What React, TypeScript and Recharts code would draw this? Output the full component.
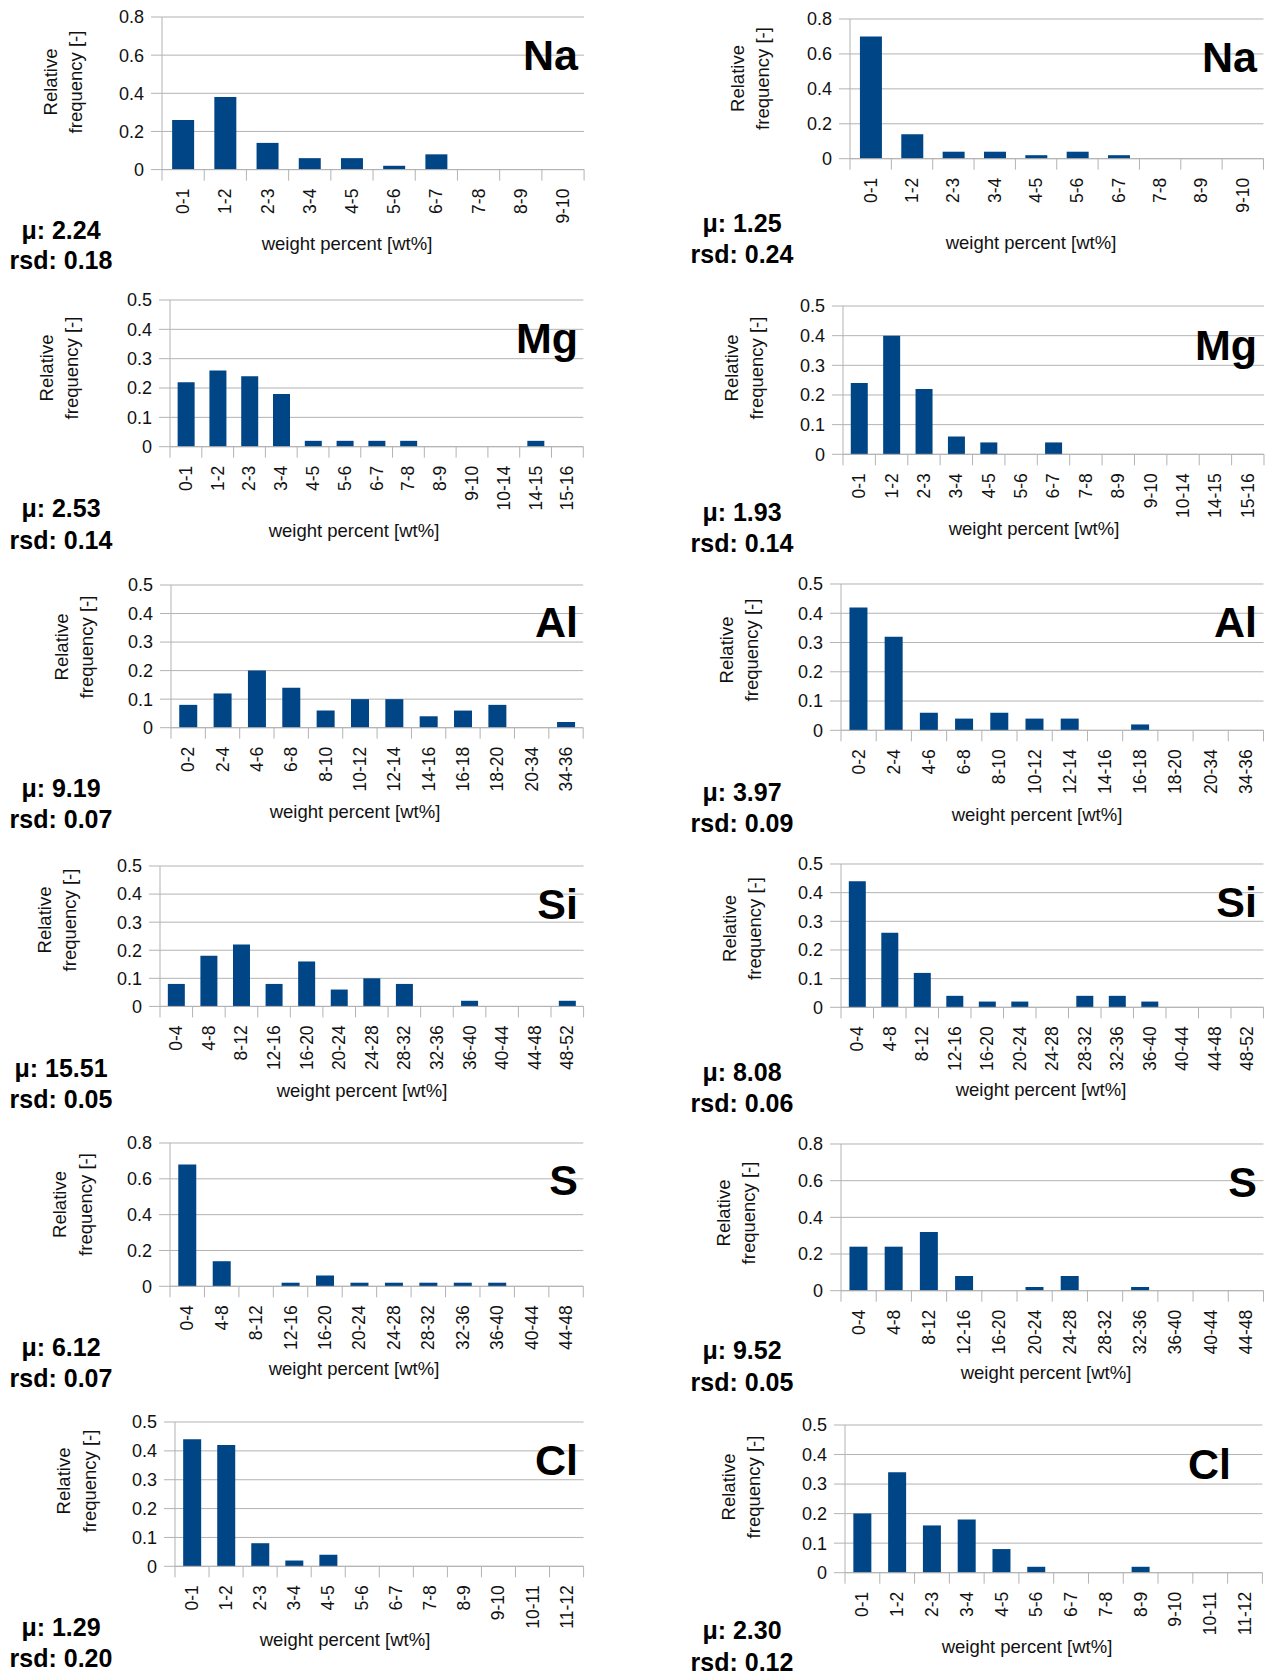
import React from 'react';
import { BarChart, Bar, XAxis, YAxis, CartesianGrid } from 'recharts';

// ---------- categories (tick labels) ----------
const catNa = ['0-1', '1-2', '2-3', '3-4', '4-5', '5-6', '6-7', '7-8', '8-9', '9-10'];
const catMg = ['0-1', '1-2', '2-3', '3-4', '4-5', '5-6', '6-7', '7-8', '8-9', '9-10', '10-14', '14-15', '15-16'];
const catAl = ['0-2', '2-4', '4-6', '6-8', '8-10', '10-12', '12-14', '14-16', '16-18', '18-20', '20-34', '34-36'];
const catSi = ['0-4', '4-8', '8-12', '12-16', '16-20', '20-24', '24-28', '28-32', '32-36', '36-40', '40-44', '44-48', '48-52'];
const catS = ['0-4', '4-8', '8-12', '12-16', '16-20', '20-24', '24-28', '28-32', '32-36', '36-40', '40-44', '44-48'];
const catCl = ['0-1', '1-2', '2-3', '3-4', '4-5', '5-6', '6-7', '7-8', '8-9', '9-10', '10-11', '11-12'];

// ---------- series values (relative frequency) ----------
const naLeft = [0.26, 0.38, 0.14, 0.06, 0.06, 0.02, 0.08, 0, 0, 0];
const naRight = [0.7, 0.14, 0.04, 0.04, 0.02, 0.04, 0.02, 0, 0, 0];
const mgLeft = [0.22, 0.26, 0.24, 0.18, 0.02, 0.02, 0.02, 0.02, 0, 0, 0, 0.02, 0];
const mgRight = [0.24, 0.4, 0.22, 0.06, 0.04, 0, 0.04, 0, 0, 0, 0, 0, 0];
const alLeft = [0.08, 0.12, 0.2, 0.14, 0.06, 0.1, 0.1, 0.04, 0.06, 0.08, 0, 0.02];
const alRight = [0.42, 0.32, 0.06, 0.04, 0.06, 0.04, 0.04, 0, 0.02, 0, 0, 0];
const siLeft = [0.08, 0.18, 0.22, 0.08, 0.16, 0.06, 0.1, 0.08, 0, 0.02, 0, 0, 0.02];
const siRight = [0.44, 0.26, 0.12, 0.04, 0.02, 0.02, 0, 0.04, 0.04, 0.02, 0, 0, 0];
const sLeft = [0.68, 0.14, 0, 0.02, 0.06, 0.02, 0.02, 0.02, 0.02, 0.02, 0, 0];
const sRight = [0.24, 0.24, 0.32, 0.08, 0, 0.02, 0.08, 0, 0.02, 0, 0, 0];
const clLeft = [0.44, 0.42, 0.08, 0.02, 0.04, 0, 0, 0, 0, 0, 0, 0];
const clRight = [0.2, 0.34, 0.16, 0.18, 0.08, 0.02, 0, 0, 0.02, 0, 0, 0];

// ---------- y tick labels ----------
const yTicks08 = [0, 0.2, 0.4, 0.6, 0.8];
const yTicks05 = [0, 0.1, 0.2, 0.3, 0.4, 0.5];

// ---------- element names and statistics ----------
const elementNames = ['Na', 'Mg', 'Al', 'Si', 'S', 'Cl'];
const muLeft = ['2.24', '2.53', '9.19', '15.51', '6.12', '1.29'];
const rsdLeft = ['0.18', '0.14', '0.07', '0.05', '0.07', '0.20'];
const muRight = ['1.25', '1.93', '3.97', '8.08', '9.52', '2.30'];
const rsdRight = ['0.24', '0.14', '0.09', '0.06', '0.05', '0.12'];

const xTitle = 'weight percent [wt%]';
const yTitle1 = 'Relative';
const yTitle2 = 'frequency [-]';

// ---------- styles ----------
const GRID = '#b3b3b3';
const BAR = '#004586';
const TEXT = '#111111';
const FONT = '"Liberation Sans", Arial, Helvetica, sans-serif';
const Y_TICK_FS = 18;
const X_TICK_FS = 17.5;
const TITLE_FS = 18.5;

// ---------- layout (pixel geometry, separate from data) ----------
type Layout = {
  l: number; r: number; t: number; b: number;
  yt: [number, number]; cy: number;
  xt: [number, number];
  el: [number, number];
  st: [number, number, number];
};

const layoutsLeft: Layout[] = [
  { l: 161.5, r: 583.6, t: 16.7, b: 169.3, yt: [50, 75], cy: 82, xt: [347, 243], el: [578, 70], st: [61, 229.5, 260] },
  { l: 170.3, r: 583.6, t: 300, b: 446.7, yt: [46, 71], cy: 368, xt: [354, 530], el: [578, 353], st: [61, 508.3, 540] },
  { l: 171.4, r: 583.6, t: 585, b: 727.7, yt: [61, 86], cy: 647, xt: [355, 811], el: [578, 637], st: [61, 788.3, 819] },
  { l: 160, r: 583.6, t: 866.3, b: 1006.7, yt: [44, 69], cy: 920, xt: [362, 1090], el: [578, 918.5], st: [61, 1068.3, 1099] },
  { l: 170.3, r: 583.6, t: 1142.7, b: 1286, yt: [59, 85], cy: 1204.5, xt: [354, 1368], el: [578, 1195], st: [61, 1346.7, 1377.5] },
  { l: 175, r: 583.6, t: 1422, b: 1566.3, yt: [63, 89], cy: 1481, xt: [345, 1639], el: [578, 1475], st: [61, 1626.7, 1658] },
];

const layoutsRight: Layout[] = [
  { l: 850, r: 1263.5, t: 19.3, b: 159, yt: [737, 762], cy: 78.5, xt: [1031, 242], el: [1257, 71.5], st: [742, 223.3, 254] },
  { l: 842.5, r: 1263.5, t: 306, b: 454.3, yt: [731, 756], cy: 368, xt: [1034, 528], el: [1257, 360], st: [742, 511.7, 542.5] },
  { l: 841, r: 1263.5, t: 584, b: 730.3, yt: [726, 751], cy: 650, xt: [1037, 814], el: [1257, 637], st: [742, 791.7, 822.5] },
  { l: 841, r: 1263.5, t: 864, b: 1007.3, yt: [729, 754], cy: 928.5, xt: [1041, 1089], el: [1257, 917], st: [742, 1071.7, 1102.5] },
  { l: 841, r: 1263.5, t: 1144, b: 1290.7, yt: [723, 748], cy: 1213, xt: [1046, 1372], el: [1257, 1196.5], st: [742, 1350, 1381.7] },
  { l: 844.6, r: 1262, t: 1425, b: 1572.7, yt: [728, 753], cy: 1487, xt: [1027, 1646], el: [1231, 1478.5], st: [742, 1630, 1661.7] },
];

// ---------- panel table built from the arrays above ----------
type PanelDef = {
  cats: string[]; values: number[]; ticks: number[]; max: number;
  element: string; mu: string; rsd: string; layout: Layout;
};

const catsByRow = [catNa, catMg, catAl, catSi, catS, catCl];
const leftValues = [naLeft, mgLeft, alLeft, siLeft, sLeft, clLeft];
const rightValues = [naRight, mgRight, alRight, siRight, sRight, clRight];
const ticksByRow = [yTicks08, yTicks05, yTicks05, yTicks05, yTicks08, yTicks05];

const panels: PanelDef[] = [];
for (let i = 0; i < 6; i++) {
  const ticks = ticksByRow[i];
  panels.push({
    cats: catsByRow[i], values: leftValues[i], ticks, max: ticks[ticks.length - 1],
    element: elementNames[i], mu: muLeft[i], rsd: rsdLeft[i], layout: layoutsLeft[i],
  });
  panels.push({
    cats: catsByRow[i], values: rightValues[i], ticks, max: ticks[ticks.length - 1],
    element: elementNames[i], mu: muRight[i], rsd: rsdRight[i], layout: layoutsRight[i],
  });
}

const PAD_L = 100;
const PAD_T = 10;
const PAD_R = 1;
const X_AXIS_H = 80;
const Y_AXIS_W = 60;

const renderXTick = (p: any, fallbackHalf: number, n: number) => {
  const { x, y, payload } = p;
  const idx = typeof p.index === 'number' ? p.index : payload?.index;
  const half = payload && typeof payload.offset === 'number' && payload.offset > 3 ? payload.offset : fallbackHalf;
  const ty = y + 19;
  return (
    <g>
      <line x1={x - half} x2={x - half} y1={y} y2={y + 11} stroke={GRID} strokeWidth={1} />
      {idx === n - 1 && <line x1={x + half} x2={x + half} y1={y} y2={y + 11} stroke={GRID} strokeWidth={1} />}
      <text
        x={x}
        y={ty}
        transform={`rotate(-90 ${x} ${ty})`}
        textAnchor="end"
        dominantBaseline="central"
        fontSize={X_TICK_FS}
        fontFamily={FONT}
        fill={TEXT}
      >
        {payload.value}
      </text>
    </g>
  );
};

function Panel({ def }: { def: PanelDef }) {
  const { layout: L, cats, values } = def;
  const plotW = L.r - L.l;
  const plotH = L.b - L.t;
  const width = plotW + PAD_L + PAD_R;
  const height = plotH + PAD_T + X_AXIS_H;
  const data = cats.map((c, i) => ({ cat: c, value: values[i] }));
  const n = cats.length;
  const fallbackHalf = plotW / n / 2;
  return (
    <div style={{ position: 'absolute', left: L.l - PAD_L, top: L.t - PAD_T, width, height }}>
      <BarChart
        width={width}
        height={height}
        data={data}
        margin={{ top: PAD_T, right: PAD_R, bottom: 0, left: PAD_L - Y_AXIS_W }}
        barCategoryGap="24%"
      >
        <CartesianGrid horizontal={true} vertical={false} stroke={GRID} strokeWidth={1} />
        <XAxis
          dataKey="cat"
          type="category"
          interval={0}
          height={X_AXIS_H}
          tickSize={0}
          tickMargin={0}
          tickLine={false}
          axisLine={{ stroke: GRID, strokeWidth: 1 }}
          tick={(p: any) => renderXTick(p, fallbackHalf, n)}
        />
        <YAxis
          type="number"
          domain={[0, def.max]}
          ticks={def.ticks}
          interval={0}
          width={Y_AXIS_W}
          tickSize={11}
          tickMargin={7}
          axisLine={{ stroke: GRID, strokeWidth: 1 }}
          tickLine={{ stroke: GRID, strokeWidth: 1 }}
          tick={{ fontSize: Y_TICK_FS, fill: TEXT, fontFamily: FONT }}
          allowDecimals={true}
        />
        <YAxis
          yAxisId="frame"
          orientation="right"
          width={0}
          tick={false}
          tickLine={false}
          axisLine={{ stroke: GRID, strokeWidth: 1 }}
        />
        <Bar dataKey="value" fill={BAR} isAnimationActive={false} />
      </BarChart>
    </div>
  );
}

function Labels({ def }: { def: PanelDef }) {
  const L = def.layout;
  return (
    <g>
      <text
        x={L.yt[0]}
        y={L.cy}
        transform={`rotate(-90 ${L.yt[0]} ${L.cy})`}
        textAnchor="middle"
        dominantBaseline="central"
        fontSize={TITLE_FS}
        fill={TEXT}
      >
        {yTitle1}
      </text>
      <text
        x={L.yt[1]}
        y={L.cy}
        transform={`rotate(-90 ${L.yt[1]} ${L.cy})`}
        textAnchor="middle"
        dominantBaseline="central"
        fontSize={TITLE_FS}
        fill={TEXT}
      >
        {yTitle2}
      </text>
      <text x={L.xt[0]} y={L.xt[1]} textAnchor="middle" dominantBaseline="central" fontSize={TITLE_FS} fill={TEXT}>
        {xTitle}
      </text>
      <text x={L.el[0]} y={L.el[1]} textAnchor="end" fontSize={43} fontWeight="bold" fill="#000">
        {def.element}
      </text>
      <text x={L.st[0]} y={L.st[1] + 9} textAnchor="middle" fontSize={25} fontWeight="bold" fill="#000">
        {`μ: ${def.mu}`}
      </text>
      <text x={L.st[0]} y={L.st[2] + 9} textAnchor="middle" fontSize={25} fontWeight="bold" fill="#000">
        {`rsd: ${def.rsd}`}
      </text>
    </g>
  );
}

export default function App() {
  return (
    <div
      style={{
        position: 'absolute',
        left: 0,
        top: 0,
        width: 1265,
        height: 1673,
        overflow: 'hidden',
        background: '#ffffff',
        fontFamily: FONT,
      }}
    >
      {panels.map((p, i) => (
        <Panel key={i} def={p} />
      ))}
      <svg
        width={1265}
        height={1673}
        style={{ position: 'absolute', left: 0, top: 0, pointerEvents: 'none', fontFamily: FONT }}
      >
        {panels.map((p, i) => (
          <Labels key={i} def={p} />
        ))}
      </svg>
    </div>
  );
}
